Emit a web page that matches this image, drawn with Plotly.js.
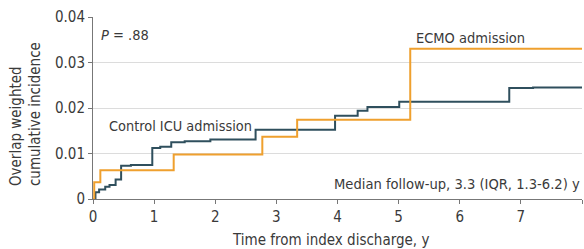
<!DOCTYPE html>
<html><head><meta charset="utf-8">
<script src="https://cdn.plot.ly/plotly-3.0.1.min.js"></script>
<style>html,body{margin:0;padding:0;background:#fff}#c{width:584px;height:249px}</style>
</head><body><div id="c"></div>
<script>
// ECMO admission (step times in years, cumulative incidence)
const ecmoX = [0, 0.02, 0.12, 1.32, 2.77, 3.34, 5.19, 8];
const ecmoY = [0, 0.0037, 0.0063, 0.0098, 0.0137, 0.0174, 0.0330, 0.0330];
// Control ICU admission
const ctrlX = [0, 0.04, 0.10, 0.20, 0.27, 0.37, 0.46, 0.62, 0.97, 1.10, 1.28, 1.50, 1.92, 2.66, 3.96, 4.33, 4.49, 5.01, 6.81, 7.20, 8];
const ctrlY = [0, 0.0015, 0.0021, 0.0027, 0.0031, 0.0043, 0.0073, 0.0075, 0.0112, 0.0115, 0.0125, 0.0127, 0.0131, 0.0152, 0.0183, 0.0194, 0.0202, 0.0214, 0.0244, 0.0245, 0.0245];
const xTicks = [0, 1, 2, 3, 4, 5, 6, 7, 8];
const yTicks = [0, 0.01, 0.02, 0.03, 0.04];
const yTickText = ['0', '0.01', '0.02', '0.03', '0.04'];

const FONT = 'DejaVu Sans Condensed, DejaVu Sans, sans-serif';
const TXT = '#3a3a3a';
const traces = [
  {x: ctrlX, y: ctrlY, type: 'scatter', mode: 'lines', line: {shape: 'hv', color: '#2F4F5D', width: 2}, hoverinfo: 'skip'},
  {x: ecmoX, y: ecmoY, type: 'scatter', mode: 'lines', line: {shape: 'hv', color: '#EFA02E', width: 2}, hoverinfo: 'skip'}
];
const layout = {
  width: 584, height: 249,
  margin: {l: 93, r: 2, t: 17, b: 50},
  showlegend: false,
  paper_bgcolor: '#fff', plot_bgcolor: '#fff',
  font: {family: FONT, size: 15, color: TXT},
  xaxis: {
    range: [0, 8], tickvals: xTicks, ticks: 'outside', ticklen: 4, tickcolor: '#777',
    showline: true, linecolor: '#777', linewidth: 1, showgrid: false, zeroline: false,
    tickfont: {family: FONT, size: 15, color: TXT}
  },
  yaxis: {
    range: [0, 0.04], tickvals: yTicks, ticktext: yTickText, ticks: 'outside', ticklen: 4, tickcolor: '#777',
    showline: true, linecolor: '#777', linewidth: 1, showgrid: true, gridcolor: '#dcdcdc', zeroline: false,
    tickfont: {family: FONT, size: 15, color: TXT}
  },
  annotations: [
    {x: 0.485, y: -0.225, xref: 'paper', yref: 'paper', text: 'Time from index discharge, y', showarrow: false, xanchor: 'center', yanchor: 'middle', font: {family: FONT, size: 15, color: TXT}},
    {x: -0.138, y: 0.464, xref: 'paper', yref: 'paper', text: 'Overlap weighted<br>cumulative incidence', textangle: -90, align: 'left', showarrow: false, xanchor: 'center', yanchor: 'middle', font: {family: FONT, size: 15, color: TXT}},
    {x: 0.1, y: 0.0360, xref: 'x', yref: 'y', text: '<i>P</i> = .88', showarrow: false, xanchor: 'left', font: {family: FONT, size: 14.5, color: TXT}},
    {x: 5.25, y: 0.0353, xref: 'x', yref: 'y', text: 'ECMO admission', showarrow: false, xanchor: 'left', font: {family: FONT, size: 14.5, color: TXT}},
    {x: 0.23, y: 0.0161, xref: 'x', yref: 'y', text: 'Control ICU admission', showarrow: false, xanchor: 'left', font: {family: FONT, size: 14.4, color: TXT}},
    {x: 8, y: 0.0035, xref: 'x', yref: 'y', text: 'Median follow-up, 3.3 (IQR, 1.3-6.2) y', showarrow: false, xanchor: 'right', font: {family: FONT, size: 14.6, color: TXT}}
  ]
};
Plotly.newPlot('c', traces, layout, {staticPlot: true, displayModeBar: false});
</script></body></html>
